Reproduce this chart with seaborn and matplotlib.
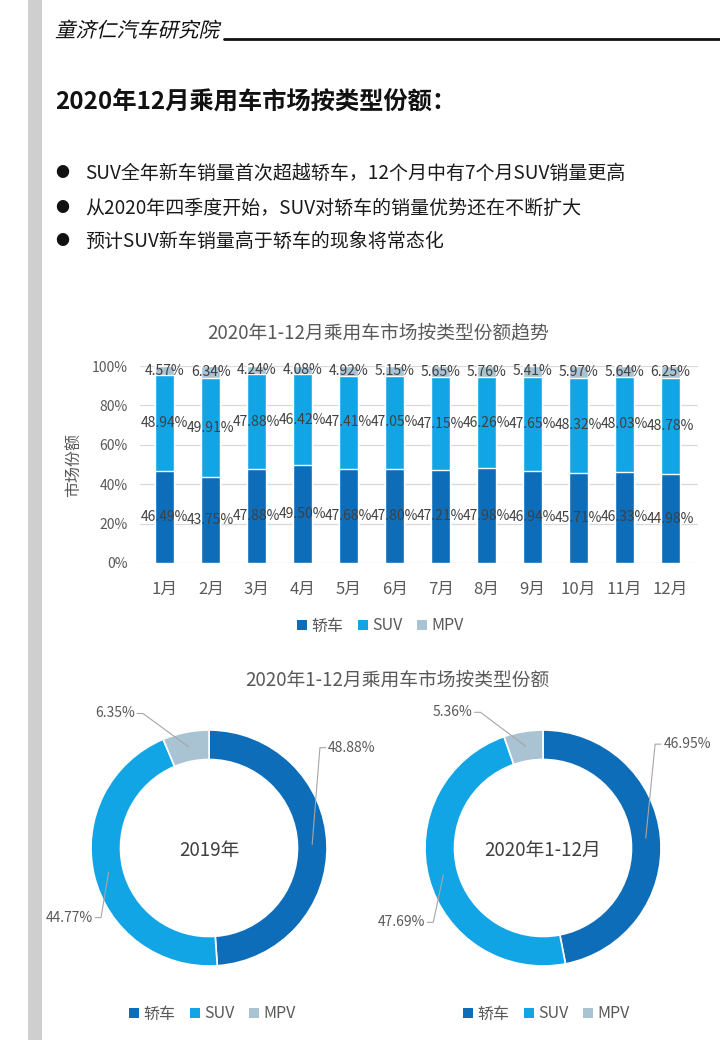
import numpy as np
import pandas as pd
import seaborn as sns
import matplotlib.pyplot as plt
from matplotlib.lines import Line2D
from matplotlib.patches import Patch, Rectangle, PathPatch
from matplotlib.textpath import TextPath
from matplotlib.font_manager import FontProperties
from matplotlib.transforms import Affine2D

# ---- data ----
MONTHS = ["1月", "2月", "3月", "4月", "5月", "6月", "7月", "8月", "9月", "10月", "11月", "12月"]
SEDAN = [46.49, 43.75, 47.88, 49.50, 47.68, 47.80, 47.21, 47.98, 46.94, 45.71, 46.33, 44.98]
SUV = [48.94, 49.91, 47.88, 46.42, 47.41, 47.05, 47.15, 46.26, 47.65, 48.32, 48.03, 48.78]
MPV = [4.57, 6.34, 4.24, 4.08, 4.92, 5.15, 5.65, 5.76, 5.41, 5.97, 5.64, 6.25]

TYPES = ["轿车", "SUV", "MPV"]
SHARE_2019 = [48.88, 44.77, 6.35]
SHARE_2020 = [46.95, 47.69, 5.36]
DONUT_NAMES = ["2019年", "2020年1-12月"]

HEADER = "童济仁汽车研究院"
BULLETS = [
    "SUV全年新车销量首次超越轿车，12个月中有7个月SUV销量更高",
    "从2020年四季度开始，SUV对轿车的销量优势还在不断扩大",
    "预计SUV新车销量高于轿车的现象将常态化",
]

COLORS = ["#0E6DB9", "#12A5E6", "#AAC3D3"]
W, H = 720, 1040


def rect(left, top, right, bottom):
    return [left / W, 1 - bottom / H, (right - left) / W, (bottom - top) / H]


def fx(x):
    return x / W


def fy(y):
    return 1 - y / H


def main() -> None:
    sns.set_theme(style="white")
    plt.rcParams["font.family"] = ["Noto Sans CJK SC", "DejaVu Sans"]

    fig = plt.figure(figsize=(7.2, 10.4), dpi=100)
    fig.patch.set_facecolor("white")

    # page decoration
    fig.add_artist(Rectangle((fx(28), 0), fx(14), 1, transform=fig.transFigure,
                             facecolor="#CFCFCF", edgecolor="none"))
    # slanted header (the CJK font has no italic, so skew the glyph outlines)
    tp = TextPath((0, 0), HEADER, size=20.5, prop=FontProperties(family="Noto Sans CJK SC"))
    tr = Affine2D().skew_deg(13, 0).translate(55, H - 37)
    fig.add_artist(PathPatch(tr.transform_path(tp), facecolor="#111111", edgecolor="none",
                             transform=None))
    fig.add_artist(Line2D([fx(224), 1], [fy(39), fy(39)], color="#111111", lw=2,
                          transform=fig.transFigure))
    fig.text(fx(55), fy(102), "2020年12月乘用车市场按类型份额：", fontsize=17.5,
             fontweight="bold", color="#111111", ha="left", va="center")
    for i, line in enumerate(BULLETS):
        y = [173, 208, 241][i]
        fig.text(fx(62), fy(y), "●", fontsize=10, color="#111111", ha="center", va="center")
        fig.text(fx(85), fy(y), line, fontsize=13.65, color="#1A1A1A", ha="left", va="center")

    # ---- stacked bar chart ----
    df = pd.DataFrame({"month": MONTHS, "sedan": SEDAN, "suv": SUV, "mpv": MPV})
    df["top_suv"] = df["sedan"] + df["suv"]
    df["top_mpv"] = df["top_suv"] + df["mpv"]

    ax = fig.add_axes(rect(140, 366, 698, 563))
    for col, c in [("top_mpv", COLORS[2]), ("top_suv", COLORS[1]), ("sedan", COLORS[0])]:
        sns.barplot(data=df, x="month", y=col, color=c, width=0.42, saturation=1,
                    errorbar=None, ax=ax, zorder=3)
    ax.set_xlim(-0.54, 11.6)
    ax.set_ylim(0, 100)
    ax.set_yticks(np.arange(0, 101, 20))
    ax.set_yticklabels([f"{v}%" for v in range(0, 101, 20)])
    ax.set_xlabel("")
    ax.set_ylabel("")
    ax.grid(axis="y", color="#D9D9D9", lw=0.9, zorder=0)
    ax.grid(axis="x", visible=False)
    for s in ax.spines.values():
        s.set_visible(False)
    ax.tick_params(axis="y", length=0, pad=9, labelsize=10, labelcolor="#595959")
    ax.tick_params(axis="x", length=0, pad=13, labelsize=12, labelcolor="#595959")

    for i in range(len(MONTHS)):
        centers = [SEDAN[i] / 2, SEDAN[i] + SUV[i] / 2, SEDAN[i] + SUV[i] + MPV[i] / 2]
        for val, yc in zip([SEDAN[i], SUV[i], MPV[i]], centers):
            ax.text(i, yc, f"{val:.2f}%", ha="center", va="center", fontsize=10,
                    color="#404040", zorder=5, clip_on=False)

    fig.text(fx(378), fy(333), "2020年1-12月乘用车市场按类型份额趋势", fontsize=13.5,
             color="#595959", ha="center", va="center")
    fig.text(fx(74), fy(465), "市场份额", fontsize=11.5, color="#595959", rotation=90,
             ha="center", va="center")

    handles = [Patch(facecolor=c, edgecolor="none") for c in COLORS]
    legend_kw = dict(ncol=3, frameon=False, handlelength=0.65, handleheight=0.65,
                     handletextpad=0.25, columnspacing=0.9, fontsize=11.5,
                     labelcolor="#595959")
    fig.legend(handles, TYPES, loc="center", bbox_to_anchor=(fx(380), fy(626)), **legend_kw)

    # ---- donuts ----
    fig.text(fx(397), fy(680), "2020年1-12月乘用车市场按类型份额", fontsize=13.5,
             color="#595959", ha="center", va="center")

    donuts = [
        (SHARE_2019, (209, 848), [(0.94, 0.85), (-0.915, -0.59), (-0.56, 1.14)]),
        (SHARE_2020, (543, 848), [(0.95, 0.88), (-0.93, -0.63), (-0.53, 1.15)]),
    ]
    R = 118
    for k, (shares, (cx, cy), elbows) in enumerate(donuts):
        dax = fig.add_axes(rect(cx - R, cy - R, cx + R, cy + R))
        dax.pie(shares, colors=COLORS, startangle=90, counterclock=False,
                radius=1, wedgeprops=dict(width=0.25, edgecolor="white", linewidth=1.2))
        dax.set_xlim(-1, 1)
        dax.set_ylim(-1, 1)
        dax.axis("off")
        dax.text(0, -0.02, DONUT_NAMES[k], ha="center", va="center", fontsize=13.5,
                 color="#404040")

        cum = np.cumsum([0] + shares[:-1])
        for j, val in enumerate(shares):
            mid = (cum[j] + val / 2) / 100 * 2 * np.pi
            ax_, ay_ = 0.875 * np.sin(mid), 0.875 * np.cos(mid)
            ex, ey = elbows[j]
            side = 1 if ex > 0 else -1
            tx = ex + side * 0.05
            dax.plot([ax_, ex, tx], [ay_, ey, ey], color="#A6A6A6", lw=0.8, clip_on=False)
            dax.text(tx + side * 0.02, ey, f"{val:.2f}%", ha="left" if side > 0 else "right",
                     va="center", fontsize=10, color="#595959", clip_on=False)

        fig.legend(handles, TYPES, loc="center", bbox_to_anchor=(fx(cx + 3), fy(1014)),
                   **legend_kw)

    fig.savefig("out.png", dpi=100, facecolor="white")
    plt.close(fig)


if __name__ == "__main__":
    main()
